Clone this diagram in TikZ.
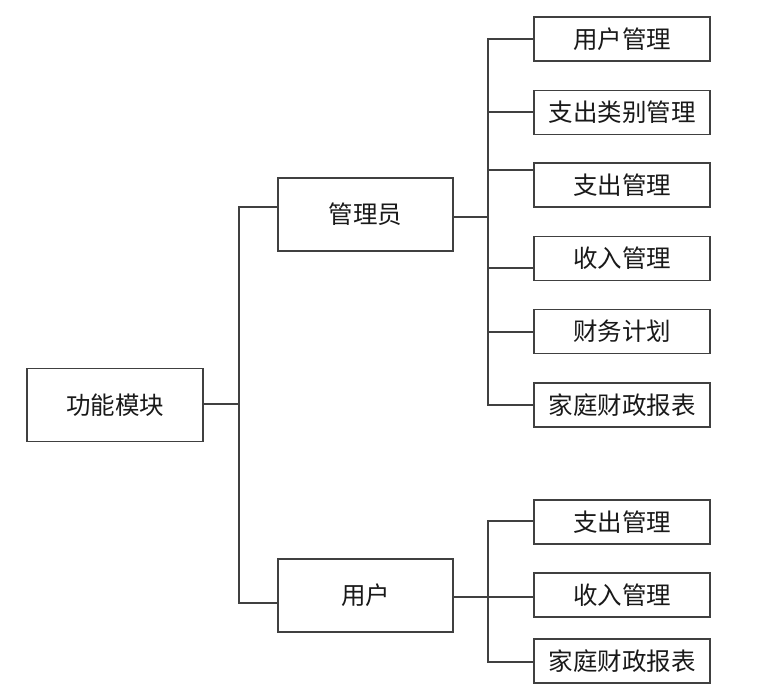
\documentclass[tikz,border=0pt]{standalone}
\usepackage{fontspec}
\newfontfamily\cjk{Noto Sans CJK SC}
\begin{document}
\begin{tikzpicture}[x=1pt,y=-1pt,
  box/.style={draw=black!75,line width=1.4pt,fill=white,inner sep=0pt,
    font=\cjk\fontsize{24.5}{28}\selectfont,text=black!90},
  bigbox/.style={box,minimum width=176pt,minimum height=73pt},
  leafbox/.style={box,minimum width=176pt,minimum height=44pt},
  link/.style={draw=black!75,line width=1.4pt,line join=miter}]
\useasboundingbox[fill=white] (0,0) rectangle (770,695);
% nodes
\node[bigbox] (root) at (115,405) {功能模块};
\node[bigbox,minimum width=175pt] (admin) at (365.5,214.5) {管理员};
\node[bigbox,minimum width=175pt] (user) at (365.5,595.5) {用户};
\node[leafbox] (r1) at (622,39) {用户管理};
\node[leafbox] (r2) at (622,112.5) {支出类别管理};
\node[leafbox] (r3) at (622,185) {支出管理};
\node[leafbox] (r4) at (622,258.5) {收入管理};
\node[leafbox] (r5) at (622,331.5) {财务计划};
\node[leafbox] (r6) at (622,405) {家庭财政报表};
\node[leafbox] (u1) at (622,522) {支出管理};
\node[leafbox] (u2) at (622,595) {收入管理};
\node[leafbox] (u3) at (622,661) {家庭财政报表};
% root trunk
\coordinate (t0) at (239,207);
\coordinate (t1) at (239,603);
\coordinate (tm) at (239,404);
\draw[link] (root.east |- tm) -- (tm);
\draw[link] (t0 -| admin.west) -- (t0) -- (t1) -- (t1 -| user.west);
% admin trunk
\coordinate (am) at (488,217);
\coordinate (a1) at (488,39);
\coordinate (a2) at (488,112);
\coordinate (a3) at (488,170);
\coordinate (a4) at (488,268);
\coordinate (a5) at (488,332);
\coordinate (a6) at (488,405);
\draw[link] (am -| admin.east) -- (am);
\draw[link] (a1 -| r1.west) -- (a1) -- (a6) -- (a6 -| r6.west);
\draw[link] (a2) -- (a2 -| r2.west);
\draw[link] (a3) -- (a3 -| r3.west);
\draw[link] (a4) -- (a4 -| r4.west);
\draw[link] (a5) -- (a5 -| r5.west);
% user trunk
\coordinate (b1) at (488,521);
\coordinate (b2) at (488,597);
\coordinate (b3) at (488,662);
\draw[link] (b2 -| user.east) -- (b2) -- (b2 -| u2.west);
\draw[link] (b1 -| u1.west) -- (b1) -- (b3) -- (b3 -| u3.west);
\end{tikzpicture}
\end{document}
